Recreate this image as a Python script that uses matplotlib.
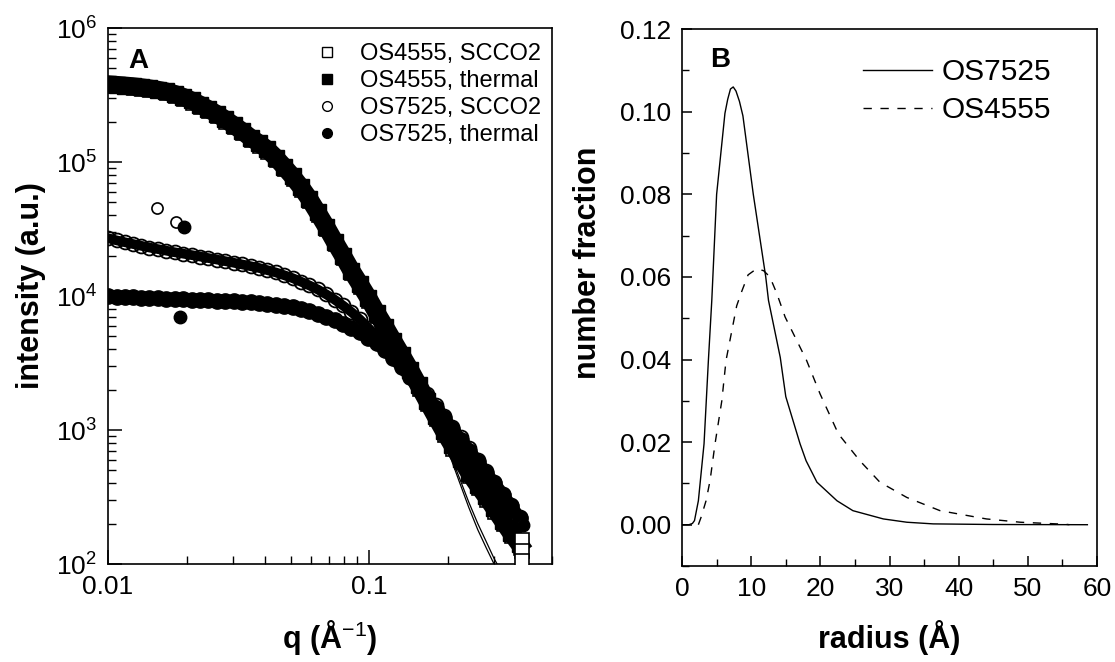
import matplotlib
matplotlib.use("Agg")
import matplotlib.pyplot as plt
from matplotlib.ticker import LogLocator, MultipleLocator, FixedLocator, NullFormatter

plt.rcParams['font.family'] = ['Liberation Sans', 'DejaVu Sans']
plt.rcParams['mathtext.fontset'] = 'custom'
plt.rcParams['mathtext.rm'] = 'Liberation Sans'
plt.rcParams['mathtext.it'] = 'Liberation Sans:italic'
plt.rcParams['mathtext.bf'] = 'Liberation Sans:bold'

# ---- panel A: SAXS intensity vs q ----
q = [0.0100, 0.0108, 0.0116, 0.0125, 0.0134, 0.0144, 0.0155, 0.0167, 0.0180, 0.0194,
     0.0209, 0.0225, 0.0242, 0.0261, 0.0281, 0.0303, 0.0326, 0.0351, 0.0378, 0.0407,
     0.0438, 0.0472, 0.0508, 0.0547, 0.0589, 0.0634, 0.0683, 0.0736, 0.0792, 0.0853,
     0.0919, 0.0990, 0.1066, 0.1148, 0.1236, 0.1331, 0.1434, 0.1544, 0.1663, 0.1791,
     0.1929, 0.2077, 0.2237, 0.2409, 0.2594, 0.2794, 0.3009, 0.3240, 0.3490, 0.3758]

os4555_thermal = [380000, 376000, 372000, 367000, 361000, 354000, 346000, 336000, 322000, 306000,
                  288000, 268000, 248000, 228000, 208000, 188000, 170000, 152000, 138000, 124000,
                  108000, 92000, 78000, 65000, 53000, 42000, 33000, 25500, 20000, 15500,
                  12300, 9700, 7500, 5900, 4600, 3600, 2800, 2150, 1650, 1270,
                  980, 770, 610, 480, 390, 320, 260, 210, 170, 140]

os4555_scco2 = [365000, 361000, 357000, 352000, 346000, 339000, 331000, 321000, 307000, 291000,
                273000, 254000, 235000, 216000, 197000, 178000, 161000, 144000, 130000, 117000,
                102000, 87000, 73500, 61000, 50000, 39500, 31000, 24000, 18800, 14600,
                11500, 9100, 7000, 5500, 4300, 3350, 2600, 2000, 1530, 1180,
                910, 715, 565, 445, 360, 295, 240, 195, 158, 130]

os7525_scco2 = [27000, 26000, 25200, 24400, 23700, 23000, 22400, 21800, 21200, 20700,
                20200, 19700, 19200, 18700, 18200, 17700, 17200, 16700, 16200, 15600,
                15000, 14300, 13600, 12800, 12000, 11200, 10300, 9400, 8500, 7600,
                6700, 5800, 5000, 4300, 3650, 3100, 2600, 2200, 1850, 1550,
                1280, 1060, 880, 730, 600, 495, 410, 335, 275, 225]

os7525_thermal = [10000, 9900, 9800, 9750, 9700, 9650, 9600, 9550, 9500, 9450,
                  9400, 9350, 9300, 9250, 9200, 9150, 9050, 8950, 8850, 8750,
                  8600, 8450, 8250, 8000, 7700, 7350, 7000, 6600, 6200, 5800,
                  5350, 4900, 4450, 3950, 3450, 2950, 2500, 2100, 1760, 1470,
                  1220, 1010, 840, 700, 580, 480, 400, 330, 270, 220]

# stray points at low q and the last points at high q
q_extra_7525s = [0.0154, 0.0182, 0.385]
i_extra_7525s = [45000, 35500, 200]
q_extra_7525t = [0.0195, 0.0188, 0.386]
i_extra_7525t = [32500, 7000, 195]
q_extra_4555s = [0.384, 0.384, 0.384]
i_extra_4555s = [150, 125, 105]

# model fits for OS4555
q_fit = [0.01, 0.015, 0.02, 0.03, 0.04, 0.05, 0.06, 0.07, 0.08, 0.09, 0.10, 0.11,
         0.12, 0.14, 0.16, 0.18, 0.20, 0.22, 0.24, 0.26, 0.28, 0.30, 0.31]
fit_a = [380000, 350000, 300000, 190000, 125000, 80000, 50000, 31000, 20000, 13500, 9500, 6900,
         5100, 2950, 1750, 1120, 700, 420, 265, 180, 132, 100, 90]
fit_b = [350000, 325000, 280000, 180000, 117000, 75000, 47000, 29000, 18800, 12700, 8900, 6500,
         4800, 2800, 1680, 1100, 720, 450, 290, 200, 147, 110, 98]

# ---- panel B: size distributions ----
r_7525 = [0, 1.0, 1.5, 1.8, 2.36, 3.18, 3.81, 4.3, 5.0, 6.2, 6.6, 7.0, 7.4, 7.8, 8.3, 8.8,
          10.3, 12.1, 12.5, 14.2, 15.0, 17.06, 17.93, 19.5, 22.4, 24.7, 29.1, 32.5, 36.3,
          45.0, 58.6]
n_7525 = [0, 0, 0.0003, 0.001, 0.0058, 0.0196, 0.0398, 0.0543, 0.080, 0.0996, 0.1030, 0.1055,
          0.1060, 0.1050, 0.1025, 0.0990, 0.080, 0.060, 0.0543, 0.0405, 0.031, 0.0196, 0.0155,
          0.0103, 0.0058, 0.0034, 0.0014, 0.0006, 0.0002, 0.00005, 0]

r_4555 = [2.36, 2.75, 3.47, 4.05, 4.77, 5.75, 6.36, 7.9, 8.63, 9.55, 10.8, 11.8, 12.7, 13.7,
          14.9, 18.0, 19.95, 22.6, 25.7, 28.6, 32.5, 37.3, 44.0, 48.9, 55.5, 56.0]
n_4555 = [0, 0.0018, 0.0058, 0.0107, 0.0196, 0.030, 0.0398, 0.0530, 0.0565, 0.0605, 0.0620,
          0.0615, 0.060, 0.056, 0.0503, 0.0398, 0.0317, 0.022, 0.0155, 0.0103, 0.0066, 0.0034,
          0.0014, 0.0006, 0.0001, 0]

fig = plt.figure(figsize=(11.15, 6.62), dpi=100)
ax1 = fig.add_axes([0.0969, 0.148, 0.3982, 0.8097])
ax2 = fig.add_axes([0.6117, 0.145, 0.3722, 0.811])

tick_fs = 19
label_fs = 22

# panel A  (dense data: markers joined by a broad line so the points read as a band)
ax1.plot(q_fit, fit_a, '-', color='black', lw=0.9, zorder=5)
ax1.plot(q_fit, fit_b, '-', color='black', lw=0.9, zorder=5)
ax1.plot(q, os4555_scco2, 's', ms=9, mfc='white', mec='black', mew=1.2, ls='none', zorder=2)
ax1.plot(q_extra_4555s, i_extra_4555s, 's', ms=10, mfc='white', mec='black', mew=1.2,
         ls='none', zorder=4)
ax1.plot(q, os4555_thermal, 's-', ms=12, color='black', lw=13, zorder=3)
ax1.plot(q, os7525_thermal, 'o-', ms=11, color='black', lw=9, zorder=2)
ax1.plot(q, os7525_scco2, '-', color='black', lw=7, zorder=2)
ax1.plot(q, os7525_scco2, 'o', ms=10, mfc='none', mec='black', mew=1.3, zorder=2)
ax1.plot(q_extra_7525s, i_extra_7525s, 'o', ms=8, mfc='white', mec='black', mew=1.2,
         ls='none', zorder=4)
ax1.plot(q_extra_7525t, i_extra_7525t, 'o', ms=9, color='black', ls='none', zorder=4)

ax1.set_xscale('log')
ax1.set_yscale('log')
ax1.set_xlim(0.01, 0.5)
ax1.set_ylim(100, 1e6)
ax1.xaxis.set_major_locator(FixedLocator([0.01, 0.1]))
ax1.set_xticklabels(['0.01', '0.1'])
ax1.xaxis.set_minor_locator(LogLocator(base=10, subs=range(2, 10)))
ax1.xaxis.set_minor_formatter(NullFormatter())
ax1.yaxis.set_major_locator(LogLocator(base=10, numticks=10))
ax1.yaxis.set_minor_locator(LogLocator(base=10, subs=range(2, 10), numticks=20))
ax1.yaxis.set_minor_formatter(NullFormatter())
ax1.tick_params(which='major', direction='in', length=10, width=1.1, labelsize=tick_fs, pad=8)
ax1.tick_params(which='minor', direction='in', length=6, width=1.0)

ax1.set_xlabel('q (Å$^{-1}$)', fontsize=label_fs, fontweight='bold')
ax1.set_ylabel('intensity (a.u.)', fontsize=label_fs, fontweight='bold')
ax1.xaxis.set_label_coords(0.5, -0.10)
ax1.yaxis.set_label_coords(-0.14, 0.52)
ax1.text(0.045, 0.963, 'A', transform=ax1.transAxes, fontsize=20, fontweight='bold',
         va='top', ha='left')

h1, = ax1.plot([], [], 's', ms=7, mfc='white', mec='black', mew=1.0, ls='none')
h2, = ax1.plot([], [], 's', ms=7, color='black', ls='none')
h3, = ax1.plot([], [], 'o', ms=7, mfc='white', mec='black', mew=1.0, ls='none')
h4, = ax1.plot([], [], 'o', ms=7, color='black', ls='none')
ax1.legend([h1, h2, h3, h4],
           ['OS4555, SCCO2', 'OS4555, thermal', 'OS7525, SCCO2', 'OS7525, thermal'],
           loc='upper left', bbox_to_anchor=(0.466, 0.972), frameon=False, fontsize=17,
           handlelength=1.0, handletextpad=0.9, labelspacing=0.21, borderpad=0,
           borderaxespad=0, numpoints=1)

# panel B
ax2.plot(r_7525, n_7525, '-', color='black', lw=1.0, label='OS7525')
ax2.plot(r_4555, n_4555, color='black', lw=1.0, dashes=(6, 6.2), label='OS4555')
ax2.set_xlim(0, 60)
ax2.set_ylim(-0.01, 0.12)
ax2.xaxis.set_major_locator(MultipleLocator(10))
ax2.xaxis.set_minor_locator(MultipleLocator(5))
ax2.yaxis.set_minor_locator(MultipleLocator(0.01))
ax2.set_yticks([0, 0.02, 0.04, 0.06, 0.08, 0.10, 0.12])
ax2.set_yticklabels(['0.00', '0.02', '0.04', '0.06', '0.08', '0.10', '0.12'])
ax2.tick_params(which='major', direction='in', length=7, width=1.1, labelsize=tick_fs, pad=8)
ax2.tick_params(which='minor', direction='in', length=5, width=1.0)
ax2.set_xlabel('radius (Å)', fontsize=label_fs, fontweight='bold')
ax2.set_ylabel('number fraction', fontsize=label_fs, fontweight='bold')
ax2.xaxis.set_label_coords(0.5, -0.10)
ax2.yaxis.set_label_coords(-0.19, 0.564)
ax2.text(0.0675, 0.966, 'B', transform=ax2.transAxes, fontsize=20, fontweight='bold',
         va='top', ha='left')
ax2.legend(loc='upper left', bbox_to_anchor=(0.436, 0.946), frameon=False, fontsize=21.5,
           handlelength=2.3, handletextpad=0.33, labelspacing=0.33, borderpad=0,
           borderaxespad=0)

for ax in (ax1, ax2):
    for sp in ax.spines.values():
        sp.set_linewidth(1.2)

fig.savefig('out.png', dpi=100)
